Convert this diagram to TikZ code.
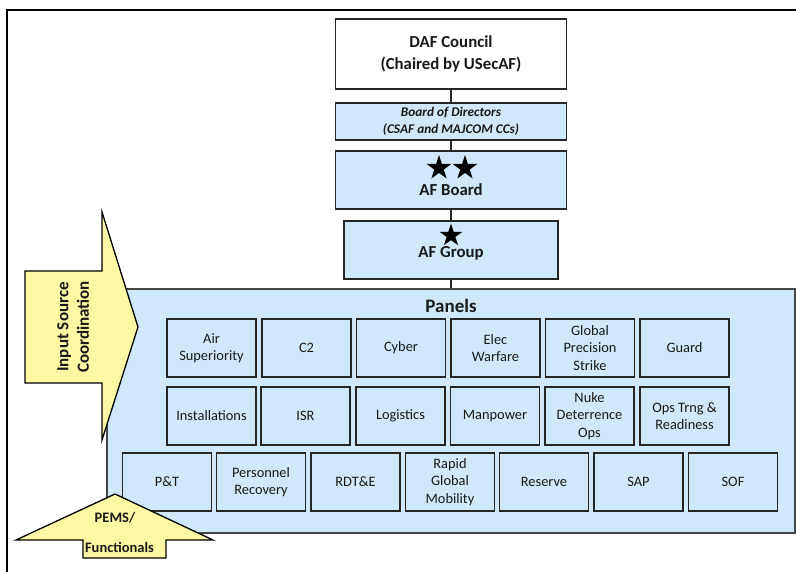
\documentclass[tikz,border=0pt]{standalone}
\usepackage{fontspec}
\setmainfont{Carlito}
\usetikzlibrary{shapes.geometric}
\definecolor{lblue}{RGB}{207,233,250}
\definecolor{pyellow}{RGB}{252,248,164}
\definecolor{edgec}{RGB}{38,38,38}
\definecolor{panedge}{RGB}{70,70,70}
\definecolor{txtc}{RGB}{25,25,25}
\begin{document}
\begin{tikzpicture}[x=1pt,y=-1pt,
  every node/.style={inner sep=0pt, text=txtc},
  topbox/.style={draw=edgec, line width=1.4pt, fill=lblue, align=center},
  titlefont/.style={font=\bfseries\fontsize{16.8}{21.5}\selectfont},
  pbox/.style={draw=edgec, line width=1.3pt, fill=lblue, minimum width=89pt, minimum height=58pt, align=center, font=\fontsize{14.4}{17.5}\selectfont},
  starnode/.style={star, star points=5, star point ratio=2.6, fill=black, draw=none},
  yarrow/.style={draw=black, line width=1.3pt, fill=pyellow, line join=miter},
  conn/.style={draw=edgec, line width=1.3pt}]
\useasboundingbox (0,0) rectangle (796,572);
\fill[white] (0,0) rectangle (796,572);
\draw[line width=2pt] (7,572) -- (7,10) -- (796,10);

% top hierarchy
\node[topbox, fill=white, minimum width=231pt, minimum height=70pt, titlefont] (daf) at (451,54) {DAF Council\\(Chaired by USecAF)};
\node[topbox, minimum width=231pt, minimum height=37pt, font=\bfseries\itshape\fontsize{13.3}{16.8}\selectfont] (bod) at (451,121.5) {Board of Directors\\(CSAF and MAJCOM CCs)};
\node[topbox, minimum width=231pt, minimum height=58pt] (afb) at (451,180) {};
\node[starnode, minimum size=26pt] (s1) at (439,168) {};
\node[starnode, minimum size=26pt] (s2) at (465,168) {};
\node[titlefont, anchor=base] (afbt) at (451,196) {AF Board};
\node[topbox, minimum width=214pt, minimum height=58pt] (afg) at (451,250) {};
\node[starnode, minimum size=24pt] (s3) at (451,235.5) {};
\node[titlefont, anchor=base] (afgt) at (451,258) {AF Group};

% panels container
\node[draw=panedge, line width=1.5pt, fill=lblue, minimum width=688pt, minimum height=244pt] (panels) at (451,411) {};
\node[font=\bfseries\fontsize{19}{22}\selectfont] (ptitle) at (451,306) {Panels};

% connectors
\draw[conn] (daf.south) -- (bod.north);
\draw[conn] (bod.south) -- (afb.north);
\draw[conn] (afb.south) -- (afg.north);
\draw[conn] (afg.south) -- (panels.north);

% row 1
\node[pbox] (air) at (211.5,348) {Air\\Superiority};
\node[pbox] (c2) at (306.5,348) {C2};
\node[pbox] (cyber) at (401,348) {Cyber};
\node[pbox] (elec) at (495.5,348) {Elec\\Warfare};
\node[pbox] (gps) at (590,348) {Global\\Precision\\Strike};
\node[pbox] (guard) at (684.5,348) {Guard};
% row 2
\node[pbox] (inst) at (211.5,416) {Installations};
\node[pbox] (isr) at (305.5,416) {ISR};
\node[pbox] (log) at (400.5,416) {Logistics};
\node[pbox] (man) at (495,416) {Manpower};
\node[pbox] (nuke) at (589.5,416) {Nuke\\Deterrence\\Ops};
\node[pbox] (ops) at (684.5,416) {Ops Trng \&\\Readiness};
% row 3
\node[pbox] (pt) at (167,482) {P\&T};
\node[pbox] (pr) at (261,482) {Personnel\\Recovery};
\node[pbox] (rdte) at (355.5,482) {RDT\&E};
\node[pbox] (rgm) at (450,482) {Rapid\\Global\\Mobility};
\node[pbox] (res) at (544,482) {Reserve};
\node[pbox] (sap) at (638.5,482) {SAP};
\node[pbox] (sof) at (733,482) {SOF};

% input arrows
\draw[yarrow] (25,271) -- (102,271) -- (102,212) -- (138,327) -- (102,440) -- (102,383) -- (25,383) -- cycle;
\node[rotate=90, align=center, font=\bfseries\fontsize{17}{20.5}\selectfont] (isc) at (73,327) {Input Source\\Coordination};

\draw[yarrow] (115,494) -- (213,540) -- (166,540) -- (166,558) -- (83,558) -- (83,540) -- (16,540) -- cycle;
\node[font=\bfseries\fontsize{14.5}{17.5}\selectfont, anchor=base] (pems) at (115,522) {PEMS/};
\node[font=\bfseries\fontsize{14.5}{17.5}\selectfont, anchor=base] (func) at (119.5,552) {Functionals};
\end{tikzpicture}
\end{document}
